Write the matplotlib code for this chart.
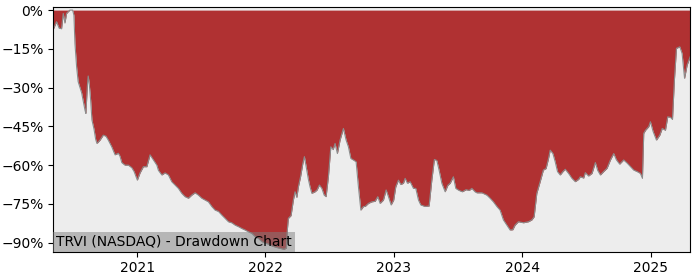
import matplotlib
matplotlib.use("Agg")
import matplotlib.pyplot as plt
from matplotlib.ticker import FuncFormatter
import pandas as pd

# drawdown, time as decimal year
years = [
    2020.348, 2020.374, 2020.394, 2020.413, 2020.426, 2020.439, 2020.452, 2020.465, 2020.478, 2020.499,
    2020.509, 2020.517, 2020.530, 2020.542, 2020.556, 2020.569, 2020.581, 2020.595, 2020.602, 2020.613,
    2020.620, 2020.628, 2020.639, 2020.649, 2020.665, 2020.678, 2020.688, 2020.712, 2020.737, 2020.758,
    2020.776, 2020.803, 2020.829, 2020.854, 2020.867, 2020.881, 2020.906, 2020.932, 2020.959, 2020.977,
    2021.002, 2021.023, 2021.049, 2021.076, 2021.101, 2021.127, 2021.154, 2021.166, 2021.193, 2021.218,
    2021.244, 2021.270, 2021.296, 2021.322, 2021.348, 2021.374, 2021.400, 2021.426, 2021.452, 2021.478,
    2021.504, 2021.530, 2021.556, 2021.582, 2021.608, 2021.634, 2021.660, 2021.686, 2021.712, 2021.738,
    2021.764, 2021.790, 2021.816, 2021.842, 2021.868, 2021.894, 2021.920, 2021.945, 2021.972, 2021.998,
    2022.021, 2022.052, 2022.083, 2022.115, 2022.146, 2022.164, 2022.171, 2022.179, 2022.200, 2022.218,
    2022.231, 2022.245, 2022.257, 2022.274, 2022.292, 2022.304, 2022.323, 2022.335, 2022.348, 2022.362,
    2022.387, 2022.403, 2022.421, 2022.440, 2022.458, 2022.473, 2022.491, 2022.510, 2022.528, 2022.543,
    2022.561, 2022.582, 2022.608, 2022.629, 2022.647, 2022.666, 2022.686, 2022.707, 2022.725, 2022.744,
    2022.764, 2022.777, 2022.803, 2022.829, 2022.855, 2022.876, 2022.894, 2022.920, 2022.941, 2022.959,
    2022.980, 2023.000, 2023.016, 2023.037, 2023.055, 2023.076, 2023.089, 2023.107, 2023.128, 2023.154,
    2023.172, 2023.193, 2023.211, 2023.245, 2023.276, 2023.297, 2023.317, 2023.336, 2023.354, 2023.375,
    2023.401, 2023.422, 2023.440, 2023.465, 2023.484, 2023.510, 2023.535, 2023.564, 2023.588, 2023.609,
    2023.634, 2023.648, 2023.687, 2023.726, 2023.751, 2023.777, 2023.804, 2023.829, 2023.855, 2023.882,
    2023.907, 2023.928, 2023.946, 2023.972, 2024.011, 2024.050, 2024.076, 2024.094, 2024.115, 2024.141,
    2024.166, 2024.187, 2024.206, 2024.219, 2024.240, 2024.258, 2024.276, 2024.297, 2024.318, 2024.336,
    2024.362, 2024.388, 2024.414, 2024.440, 2024.453, 2024.479, 2024.492, 2024.517, 2024.544, 2024.570,
    2024.588, 2024.609, 2024.634, 2024.661, 2024.687, 2024.713, 2024.733, 2024.759, 2024.790, 2024.817,
    2024.843, 2024.868, 2024.895, 2024.920, 2024.936, 2024.946, 2024.960, 2024.985, 2024.998, 2025.019,
    2025.045, 2025.071, 2025.090, 2025.115, 2025.133, 2025.154, 2025.170, 2025.185, 2025.201, 2025.227,
    2025.245, 2025.264, 2025.284, 2025.308,
]
drawdown = [
    -7.5, -4.5, -7.0, -7.2, -1.3, -5.0, -1.3, -0.6, 0.0, 0.0,
    -2.0, -12.9, -22.0, -27.7, -30.0, -32.0, -35.0, -38.7, -40.0, -29.7,
    -25.5, -28.4, -34.8, -42.5, -46.0, -50.0, -51.6, -50.3, -48.4, -48.8,
    -50.3, -52.9, -56.0, -55.4, -56.5, -59.0, -60.0, -60.0, -61.0, -62.5,
    -65.8, -63.0, -60.6, -60.6, -56.0, -58.0, -60.0, -62.0, -63.8, -63.0,
    -63.8, -66.4, -67.7, -69.0, -70.9, -72.2, -72.8, -71.6, -70.7, -71.6,
    -72.8, -73.5, -74.2, -76.0, -77.4, -77.9, -79.3, -80.6, -81.9, -82.3,
    -83.2, -83.8, -84.5, -85.1, -85.8, -86.4, -87.7, -88.3, -89.6, -90.2,
    -90.5, -91.3, -91.8, -92.2, -92.6, -92.0, -85.0, -80.6, -79.5, -73.5,
    -70.3, -72.5, -68.4, -64.5, -59.3, -56.7, -62.0, -65.5, -68.4, -70.9,
    -70.3, -69.6, -67.7, -69.0, -71.6, -72.2, -64.5, -52.9, -54.0, -51.6,
    -55.5, -50.3, -45.8, -50.3, -52.9, -57.4, -58.0, -58.7, -68.4, -77.4,
    -76.0, -76.0, -74.8, -74.2, -74.0, -72.2, -74.8, -73.5, -69.6, -72.2,
    -75.4, -73.5, -68.4, -65.8, -67.5, -67.0, -65.1, -67.0, -66.4, -69.0,
    -69.0, -73.5, -75.4, -76.0, -75.8, -65.8, -57.8, -58.2, -62.0, -67.0,
    -70.3, -67.8, -67.0, -64.5, -69.0, -69.8, -70.3, -69.5, -69.8, -69.0,
    -70.3, -70.7, -70.7, -71.6, -72.8, -74.2, -76.0, -77.4, -81.2, -83.2,
    -85.1, -85.0, -83.2, -81.9, -82.3, -81.9, -81.2, -80.0, -70.9, -66.4,
    -61.9, -61.3, -57.4, -54.2, -55.5, -58.7, -62.5, -63.8, -62.5, -61.6,
    -63.2, -65.1, -66.4, -65.5, -64.5, -65.0, -62.9, -64.2, -63.2, -59.0,
    -62.0, -63.8, -62.5, -61.2, -58.0, -55.5, -57.9, -59.6, -58.0, -59.2,
    -60.6, -61.9, -62.5, -63.2, -65.1, -47.7, -46.5, -45.1, -43.2, -47.0,
    -50.3, -48.4, -45.8, -46.5, -41.3, -41.5, -42.3, -27.0, -14.8, -14.2,
    -16.8, -26.4, -21.3, -18.0,
]
y_ticks = [0, -15, -30, -45, -60, -75, -90]
x_ticks = ["2021", "2022", "2023", "2024", "2025"]
label = "TRVI (NASDAQ) - Drawdown Chart"


def to_date(t):
    y = int(t)
    start = pd.Timestamp(year=y, month=1, day=1)
    end = pd.Timestamp(year=y + 1, month=1, day=1)
    return start + (end - start) * (t - y)


dates = [to_date(t) for t in years]

fig = plt.figure(figsize=(7, 2.8), dpi=100)
ax = fig.add_axes([0.076, 0.101, 0.910, 0.874])
ax.set_facecolor("#ededed")

ax.fill_between(dates, drawdown, 0, color="#b03132", linewidth=0)
ax.plot(dates, drawdown, color="#8c8c8c", linewidth=0.8)

ax.set_xlim(dates[0], dates[-1])
ax.set_ylim(-93.5, 1.2)
ax.set_yticks(y_ticks)
ax.yaxis.set_major_formatter(FuncFormatter(lambda v, p: f"{v:.0f}%".replace("-", "\u2212")))
ax.set_xticks([pd.Timestamp(year=int(y), month=1, day=1) for y in x_ticks])
ax.set_xticklabels(x_ticks)
ax.tick_params(labelsize=10)

# label box sits in the lower left corner of the axes
ax.text(0.0045, 0.012, label, transform=ax.transAxes, fontsize=10, ha="left", va="bottom",
        bbox=dict(boxstyle="square,pad=0.2", facecolor="gray", alpha=0.5, edgecolor="none"))

fig.savefig("out.png", dpi=100)
